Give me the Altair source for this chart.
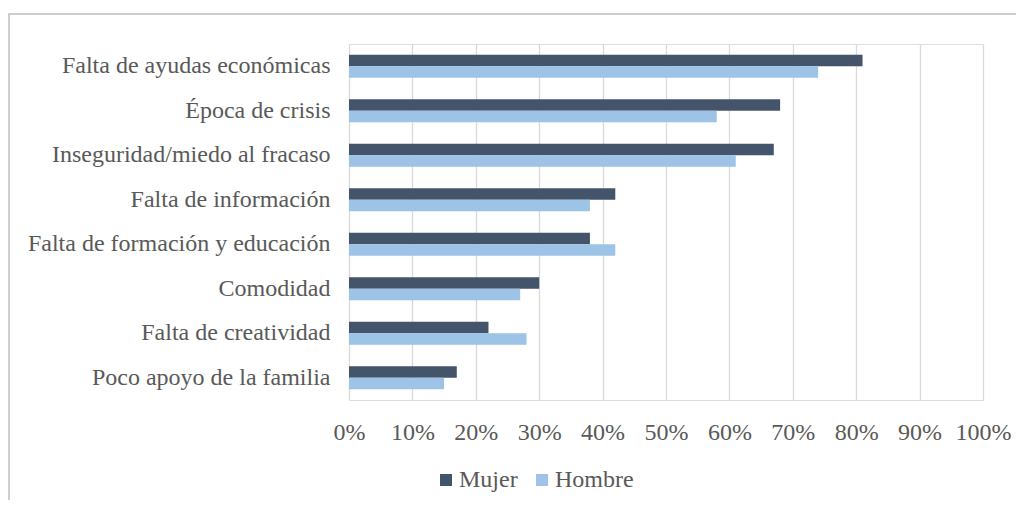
import altair as alt
import pandas as pd

categories = [
    "Falta de ayudas económicas",
    "Época de crisis",
    "Inseguridad/miedo al fracaso",
    "Falta de información",
    "Falta de formación y educación",
    "Comodidad",
    "Falta de creatividad",
    "Poco apoyo de la familia",
]
mujer = [81, 68, 67, 42, 38, 30, 22, 17]
hombre = [74, 58, 61, 38, 42, 27, 28, 15]
series = ["Mujer", "Hombre"]
colors = ["#44546a", "#9dc3e6"]

rows = []
for c, m, h in zip(categories, mujer, hombre):
    rows.append({"cat": c, "serie": "Mujer", "v": m / 100})
    rows.append({"cat": c, "serie": "Hombre", "v": h / 100})
df = pd.DataFrame(rows)

FONT = "Liberation Serif, Times New Roman, serif"
FS = 24
TXT = "#595959"

bars = alt.Chart(df).mark_bar().encode(
    y=alt.Y("cat:N", sort=categories, title=None,
            scale=alt.Scale(paddingInner=0.48, paddingOuter=0.24),
            axis=alt.Axis(domain=False, ticks=False, labelPadding=19,
                          labelFontSize=FS, labelFont=FONT, labelColor=TXT,
                          labelLimit=400)),
    yOffset=alt.YOffset("serie:N", sort=series),
    x=alt.X("v:Q", title=None,
            scale=alt.Scale(domain=[0, 1], nice=False),
            axis=alt.Axis(format=".0%", values=[i / 10 for i in range(11)],
                          domain=False, ticks=False, grid=True,
                          gridColor="#d9d9d9", gridWidth=1.3,
                          labelFontSize=FS, labelFont=FONT, labelColor=TXT,
                          labelPadding=20, labelFlush=False)),
    color=alt.Color("serie:N", sort=series,
                    scale=alt.Scale(domain=series, range=colors),
                    legend=alt.Legend(title=None, orient="none", direction="horizontal",
                                      legendX=85, legendY=424, padding=0,
                                      symbolType="square", symbolSize=144,
                                      symbolStrokeWidth=0,
                                      labelFont=FONT, labelFontSize=FS,
                                      labelColor=TXT, columnPadding=12,
                                      labelOffset=1)),
)

border = alt.Chart(pd.DataFrame({"a": [0]})).mark_rect(
    fill=None, stroke="#bfbfbf", strokeWidth=1.5, clip=False
).encode(
    x=alt.value(-340), x2=alt.value(700),
    y=alt.value(-30), y2=alt.value(480),
)

chart = alt.layer(border, bars).properties(
    width=634, height=356,
    autosize=alt.AutoSizeParams(type="none"),
    padding={"left": 341, "top": 36, "right": 33, "bottom": 100},
).configure_view(stroke=None).configure(background="white")

chart.save("out.html", embed_options={"renderer": "svg", "actions": False})
